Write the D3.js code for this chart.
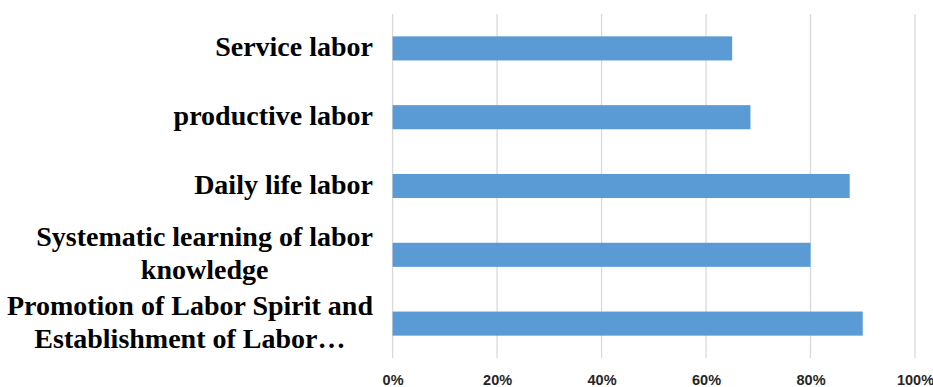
<!DOCTYPE html>
<html>
<head>
<meta charset="utf-8">
<script src="https://cdn.jsdelivr.net/npm/d3@7"></script>
<style>
  body { margin: 0; background: #fff; }
  .cat { font-family: "Liberation Serif", "Times New Roman", serif; font-weight: bold; font-size: 28px; }
  .tick text { font-family: "Liberation Sans", Arial, sans-serif; font-weight: bold; font-size: 14.5px; }
</style>
</head>
<body>
<svg id="chart"></svg>
<script>
// categories top to bottom, each as lines of text
const categories = [
  ['Service labor'],
  ['productive labor'],
  ['Daily life labor'],
  ['Systematic learning of labor', 'knowledge'],
  ['Promotion of Labor Spirit and', 'Establishment of Labor…']
];
const values = [0.65, 0.685, 0.875, 0.80, 0.90];
const tickValues = [0, 0.2, 0.4, 0.6, 0.8, 1.0];

const width = 933, height = 387;
const margin = { top: 14, right: 18, bottom: 29, left: 392.6 };

const svg = d3.select('#chart').attr('width', width).attr('height', height);

const x = d3.scaleLinear().domain([0, 1]).range([margin.left, width - margin.right]);
const y = d3.scaleBand()
  .domain(d3.range(categories.length))
  .range([margin.top, height - margin.bottom])
  .paddingInner(0.65)
  .paddingOuter(0.325);

// gridlines
svg.append('g')
  .selectAll('line')
  .data(tickValues)
  .enter()
  .append('line')
  .attr('x1', d => x(d))
  .attr('x2', d => x(d))
  .attr('y1', margin.top)
  .attr('y2', height - margin.bottom)
  .attr('stroke', '#d9d9d9')
  .attr('stroke-width', 1.3);

// bars
svg.append('g')
  .selectAll('rect')
  .data(values)
  .enter()
  .append('rect')
  .attr('x', x(0))
  .attr('y', (d, i) => y(i))
  .attr('width', d => x(d) - x(0))
  .attr('height', y.bandwidth())
  .attr('fill', '#5b9bd5');

// x tick labels
const xAxis = d3.axisBottom(x)
  .tickValues(tickValues)
  .tickFormat(d3.format('.0%'))
  .tickSize(0)
  .tickPadding(0);

const xg = svg.append('g')
  .attr('transform', 'translate(0,385)')
  .call(xAxis);
xg.select('.domain').remove();
xg.attr('font-family', null).attr('font-size', null);
xg.selectAll('text')
  .attr('y', 0)
  .attr('dy', null)
  .attr('fill', '#262626');

// category labels, right-aligned block, lines centered within it
const labelRight = 373;
const lineGap = 33;
const labelG = svg.append('g').attr('class', 'cat').attr('fill', '#000');

categories.forEach((lines, i) => {
  const cy = y(i) + y.bandwidth() / 2;
  const t = labelG.append('text').attr('text-anchor', 'middle');
  lines.forEach((ln, j) => {
    t.append('tspan')
      .attr('x', 0)
      .attr('y', cy + 8 + (j - (lines.length - 1) / 2) * lineGap)
      .text(ln);
  });
  const w = d3.max(t.selectAll('tspan').nodes(), n => n.getComputedTextLength());
  t.selectAll('tspan').attr('x', labelRight - w / 2);
});
</script>
</body>
</html>
